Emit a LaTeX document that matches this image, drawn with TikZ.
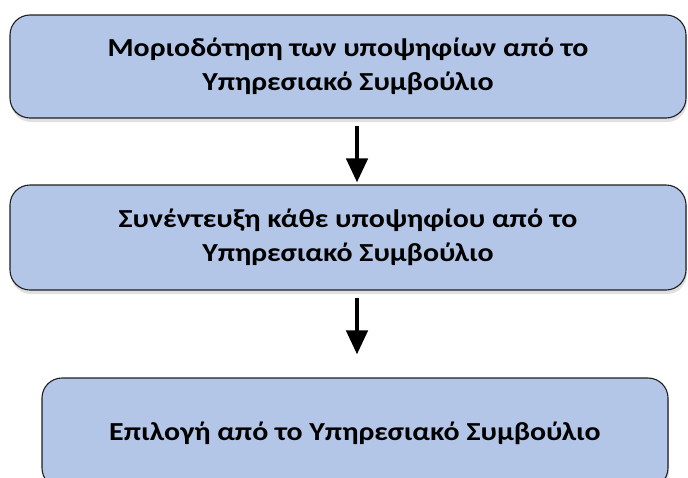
\documentclass[tikz,border=0pt]{standalone}
\usepackage{fontspec}
\setmainfont{Carlito}[FakeStretch=1.15]
\usetikzlibrary{arrows.meta,shadows}
\definecolor{boxfill}{HTML}{B4C6E7}
\definecolor{boxline}{HTML}{1F1F1F}
\tikzset{
  flowbox/.style={draw=boxline, line width=1.1pt, fill=boxfill, rounded corners=20pt,
    align=center, inner sep=0pt,
    font=\bfseries\fontsize{26}{34}\selectfont,
    drop shadow={shadow xshift=1pt, shadow yshift=-4pt, fill=black, opacity=0.12}},
  flowarrow/.style={line width=4.5pt, -{Triangle[width=21pt,length=24pt]}}
}
\begin{document}
\begin{tikzpicture}[x=1pt,y=-1pt]
\clip (0,0) rectangle (688,477);
\fill[white] (0,0) rectangle (688,477);
\node[flowbox, minimum width=676pt, minimum height=103pt] (b1) at (348,66.5)
  {Μοριοδότηση των υποψηφίων από το\\Υπηρεσιακό Συμβούλιο};
\node[flowbox, minimum width=676pt, minimum height=105pt] (b2) at (348,237.5)
  {Συνέντευξη κάθε υποψηφίου από το\\Υπηρεσιακό Συμβούλιο};
\node[flowbox, minimum width=626pt, minimum height=110pt] (b3) at (355,433)
  {Επιλογή από το Υπηρεσιακό Συμβούλιο};
\draw[flowarrow, shorten <=7pt, shorten >=2pt] ([xshift=9pt]b1.south) -- ([xshift=9pt]b1.south |- b2.north);
\draw[flowarrow, shorten <=7pt, shorten >=23pt] ([xshift=9pt]b2.south) -- ([xshift=9pt]b2.south |- b3.north);
\end{tikzpicture}
\end{document}
